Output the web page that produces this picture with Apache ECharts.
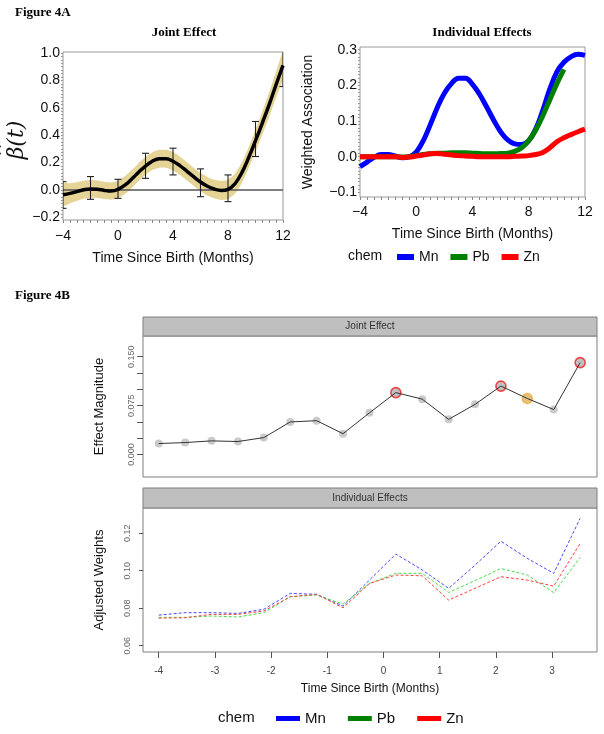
<!DOCTYPE html>
<html><head><meta charset="utf-8">
<script src="https://cdn.jsdelivr.net/npm/echarts@6/dist/echarts.min.js"></script>
<style>html,body{margin:0;padding:0;background:#fff}#c{width:604px;height:734px}</style>
</head><body><div id="c"></div>
<script>
// ---------- Figure 4A: Joint Effect ----------
const tA = [-4,-3.5,-3,-2.5,-2,-1.5,-1,-0.5,0,0.5,1,1.5,2,2.5,3,3.5,4,4.5,5,5.5,6,6.5,7,7.5,8,8.5,9,9.5,10,10.5,11,11.5,12];
const jointCurve = [-0.035,-0.025,-0.012,0.002,0.008,0.006,-0.003,-0.008, 0.004,0.035,0.08,0.13,0.175,0.21,0.228,0.228,0.21, 0.178,0.138,0.097,0.058,0.027,0.007,-0.003,0.005, 0.045,0.125,0.235,0.36,0.49,0.625,0.77,0.91];
const bandHigh = [0.05,0.05,0.057,0.068,0.073,0.07,0.06,0.055, 0.068,0.1,0.145,0.195,0.24,0.275,0.293,0.293,0.277, 0.245,0.205,0.163,0.125,0.095,0.075,0.067,0.075, 0.118,0.2,0.312,0.44,0.575,0.715,0.865,1.01];
const bandLow = [-0.115,-0.098,-0.081,-0.064,-0.057,-0.058,-0.066,-0.071, -0.06,-0.03,0.015,0.065,0.11,0.145,0.163,0.163,0.143, 0.111,0.071,0.031,-0.009,-0.041,-0.061,-0.073,-0.065, -0.028,0.05,0.158,0.28,0.405,0.535,0.675,0.815];
const ebX = [-4,-2,0,2,4,6,8,10,12];
const ebLow = [-0.134,-0.068,-0.061,0.085,0.11,-0.049,-0.085,0.244,0.755];
const ebHigh = [0.061,0.098,0.078,0.268,0.305,0.154,0.11,0.5,1.15];

// ---------- Figure 4A: Individual Effects ----------
const mnB = [-0.028,-0.015,-0.002,0.006,0.006,0.002,-0.003,0.0, 0.013,0.045,0.09,0.138,0.178,0.205,0.22,0.22,0.203, 0.175,0.14,0.103,0.07,0.047,0.036,0.034,0.045, 0.078,0.13,0.19,0.238,0.265,0.28,0.287,0.284];
const pbB = [0.0,0.0,0.0,0.0,0.0,0.0,-0.001,0.0, 0.003,0.006,0.008,0.01,0.01,0.011,0.011,0.011,0.01, 0.009,0.008,0.008,0.009,0.01,0.015,0.025,0.045, 0.075,0.115,0.16,0.205,0.245,null,null,null];
const znB = [0.0,0.0,0.0,0.0,0.0,0.0,-0.002,-0.001, 0.002,0.005,0.008,0.009,0.007,0.005,0.003,0.002,0.001, 0.0,0.0,0.0,0.0,0.0,0.001,0.002,0.003, 0.006,0.012,0.025,0.042,0.053,0.062,0.07,0.077];

// ---------- Figure 4B ----------
const tC = [-4,-3.53,-3.06,-2.59,-2.13,-1.66,-1.19,-0.72,-0.25,0.22,0.69,1.16,1.63,2.09,2.56,3.03,3.5];
const jointMag = [0.0169,0.0184,0.021,0.020,0.026,0.050,0.052,0.032,0.064,0.095,0.085,0.054,0.077,0.105,0.086,0.069,0.141];
const redIdx = [9,13,16];
const orangeIdx = [14];
const mnD = [0.0763,0.0776,0.0776,0.0772,0.0794,0.0879,0.0874,0.0811,0.095,0.1089,0.1004,0.0906,0.103,0.1158,0.1066,0.0986,0.128];
const pbD = [0.0751,0.0751,0.0758,0.0753,0.0776,0.0861,0.087,0.0822,0.0932,0.0986,0.0986,0.0884,0.0947,0.1012,0.0977,0.0883,0.1071];
const znD = [0.0747,0.0749,0.0767,0.0767,0.0785,0.0861,0.0874,0.0802,0.0932,0.0977,0.0973,0.0843,0.0906,0.0968,0.095,0.0918,0.1146];

// ---------- tick labels ----------
const labAX = [-4,0,4,8,12];
const labAY = [-0.2,0,0.2,0.4,0.6,0.8,1.0];
const labBY = [-0.1,0,0.1,0.2,0.3];
const labCY = [0,0.075,0.15];
const tickCY = [0,0.025,0.05,0.075,0.1,0.125,0.15];
const labDY = [0.06,0.08,0.10,0.12];
const labDX = [-4,-3,-2,-1,0,1,2,3];

function steps(a,b,d){const r=[];for(let v=a;v<=b+1e-9;v+=d){r.push(Math.round(v*1000)/1000);}return r;}
const minus = s => String(s).replace('-', '\u2212');
const SANS = 'Liberation Sans, Arial, sans-serif';
const SERIF = 'Liberation Serif, Times New Roman, serif';

const zip = (xs, ys) => xs.map((x,i)=>[x, ys[i]]);

const chart = echarts.init(document.getElementById('c'), null, {renderer:'canvas'});

const frameA = {show:true, borderColor:'#9a9a9a', borderWidth:1, backgroundColor:'transparent'};
const frameC = {show:true, borderColor:'#7f7f7f', borderWidth:1, backgroundColor:'transparent'};
const noLine = {show:false, onZero:false};

chart.setOption({
  animation:false,
  backgroundColor:'#fff',
  grid:[
    Object.assign({left:63, top:52, width:220, height:168}, frameA),
    Object.assign({left:360, top:47, width:225, height:150}, frameA),
    Object.assign({left:143, top:336, width:454, height:141}, frameC),
    Object.assign({left:143, top:508, width:454, height:144}, frameC)
  ],
  xAxis:[
    {gridIndex:0, type:'value', min:-4, max:12,
     axisLine:noLine, splitLine:{show:false},
     axisTick:{show:true, customValues:steps(-4,12,0.5), length:3, lineStyle:{color:'#888'}},
     axisLabel:{customValues:labAX, formatter:v=>minus(v), fontSize:14, color:'#111', fontFamily:SANS, margin:9},
     name:'Time Since Birth (Months)', nameLocation:'middle', nameGap:31,
     nameTextStyle:{fontSize:14, color:'#111', fontFamily:SANS}},
    {gridIndex:1, type:'value', min:-4, max:12,
     axisLine:noLine, splitLine:{show:false},
     axisTick:{show:true, customValues:steps(-4,12,0.5), length:3, lineStyle:{color:'#888'}},
     axisLabel:{customValues:labAX, formatter:v=>minus(v), fontSize:14, color:'#111', fontFamily:SANS, margin:8},
     name:'Time Since Birth (Months)', nameLocation:'middle', nameGap:30,
     nameTextStyle:{fontSize:14, color:'#111', fontFamily:SANS}},
    {gridIndex:2, type:'value', min:-4.28, max:3.8,
     axisLine:noLine, axisTick:{show:false}, axisLabel:{show:false}, splitLine:{show:false}},
    {gridIndex:3, type:'value', min:-4.28, max:3.8,
     axisLine:noLine, splitLine:{show:false},
     axisTick:{show:true, customValues:labDX, length:6, lineStyle:{color:'#555'}},
     axisLabel:{customValues:labDX, fontSize:10, color:'#444', fontFamily:SANS, margin:14},
     name:'Time Since Birth (Months)', nameLocation:'middle', nameGap:31,
     nameTextStyle:{fontSize:12, color:'#111', fontFamily:SANS}}
  ],
  yAxis:[
    {gridIndex:0, type:'value', min:-0.219, max:1.007,
     axisLine:noLine, splitLine:{show:false},
     axisTick:{show:true, customValues:steps(-0.2,1.0,0.025), length:2, lineStyle:{color:'#999'}},
     axisLabel:{customValues:labAY, formatter:v=>minus(v.toFixed(1)), fontSize:14, color:'#111', fontFamily:SANS, margin:3}},
    {gridIndex:1, type:'value', min:-0.113, max:0.3076,
     axisLine:noLine, splitLine:{show:false},
     axisTick:{show:true, customValues:steps(-0.1,0.3,0.01), length:2, lineStyle:{color:'#999'}},
     axisLabel:{customValues:labBY, formatter:v=>minus(v.toFixed(1)), fontSize:14, color:'#111', fontFamily:SANS, margin:3},
     name:'Weighted Association', nameLocation:'middle', nameGap:45,
     nameTextStyle:{fontSize:14, color:'#111', fontFamily:SANS}},
    {gridIndex:2, type:'value', min:-0.0344, max:0.1818,
     axisLine:noLine, splitLine:{show:false},
     axisTick:{show:true, customValues:tickCY, length:6, lineStyle:{color:'#555'}},
     axisLabel:{customValues:labCY, formatter:v=>v.toFixed(3), rotate:90, align:'center', verticalAlign:'bottom',
       fontSize:9, color:'#666', fontFamily:SANS, margin:7},
     name:'Effect Magnitude', nameLocation:'middle', nameGap:37,
     nameTextStyle:{fontSize:13, color:'#111', fontFamily:SANS}},
    {gridIndex:3, type:'value', min:0.0566, max:0.1335,
     axisLine:noLine, splitLine:{show:false},
     axisTick:{show:true, customValues:labDY, length:4, lineStyle:{color:'#555'}},
     axisLabel:{customValues:labDY, formatter:v=>v.toFixed(2), rotate:90, align:'center', verticalAlign:'bottom',
       fontSize:9, color:'#666', fontFamily:SANS, margin:11},
     name:'Adjusted Weights', nameLocation:'middle', nameGap:37,
     nameTextStyle:{fontSize:13, color:'#111', fontFamily:SANS}}
  ],
  legend:[
    {left:397, top:250, padding:0, orient:'horizontal', selectedMode:false, itemWidth:17, itemHeight:6, itemGap:12,
     textStyle:{fontSize:14, color:'#111', fontFamily:SANS},
     data:[{name:'Mn', icon:'rect', itemStyle:{color:'#0000ff'}},
           {name:'Pb', icon:'rect', itemStyle:{color:'#008000'}},
           {name:'Zn', icon:'rect', itemStyle:{color:'#ff0000'}}]},
    {left:276, top:711, padding:0, orient:'horizontal', selectedMode:false, itemWidth:24, itemHeight:5, itemGap:22,
     textStyle:{fontSize:15, color:'#111', fontFamily:SANS},
     data:[{name:'Mn', icon:'rect', itemStyle:{color:'#0000ff'}},
           {name:'Pb', icon:'rect', itemStyle:{color:'#008000'}},
           {name:'Zn', icon:'rect', itemStyle:{color:'#ff0000'}}]}
  ],
  graphic:[
    {type:'text', x:15, y:13, style:{text:'Figure 4A', font:'bold 13px '+SERIF, fill:'#000', verticalAlign:'middle'}},
    {type:'text', x:15, y:296, style:{text:'Figure 4B', font:'bold 13px '+SERIF, fill:'#000', verticalAlign:'middle'}},
    {type:'text', x:184, y:33, style:{text:'Joint Effect', font:'bold 13px '+SERIF, fill:'#000', align:'center', verticalAlign:'middle'}},
    {type:'text', x:482, y:33, style:{text:'Individual Effects', font:'bold 13px '+SERIF, fill:'#000', align:'center', verticalAlign:'middle'}},
    {type:'group', x:17, y:140, rotation:Math.PI/2, children:[
      {type:'text', x:0, y:0, style:{text:'\u03B2(t)', font:'italic 22px DejaVu Serif, serif', fill:'#111', align:'center', verticalAlign:'middle'}},
      {type:'text', x:-10, y:-13, style:{text:'^', font:'15px DejaVu Serif, serif', fill:'#111', align:'center', verticalAlign:'middle'}}
    ]},
    {type:'text', x:348, y:256, style:{text:'chem', font:'14px '+SANS, fill:'#111', verticalAlign:'middle'}},
    {type:'text', x:218, y:718, style:{text:'chem', font:'15px '+SANS, fill:'#111', verticalAlign:'middle'}},
    {type:'rect', shape:{x:143, y:317, width:454, height:19}, style:{fill:'#bfbfbf', stroke:'#7f7f7f', lineWidth:1}},
    {type:'text', x:370, y:326.5, style:{text:'Joint Effect', font:'10px '+SANS, fill:'#333', align:'center', verticalAlign:'middle'}},
    {type:'rect', shape:{x:143, y:488, width:454, height:20}, style:{fill:'#bfbfbf', stroke:'#7f7f7f', lineWidth:1}},
    {type:'text', x:370, y:498, style:{text:'Individual Effects', font:'10px '+SANS, fill:'#333', align:'center', verticalAlign:'middle'}}
  ],
  series:[
    {type:'custom', name:'band', xAxisIndex:0, yAxisIndex:0, clip:true, silent:true, z:1,
     data: tA.map((t,i)=>[t, bandLow[i], bandHigh[i]]),
     encode:{x:0, y:[1,2]},
     renderItem:function(params, api){
       if(params.dataIndex!==0) return null;
       const up=[], lo=[];
       for(let i=0;i<tA.length;i++){ up.push(api.coord([tA[i], bandHigh[i]])); lo.push(api.coord([tA[i], bandLow[i]])); }
       return {type:'polygon', shape:{points:up.concat(lo.reverse()), smooth:0.2}, style:{fill:'#E6D497'}};
     }},
    {type:'line', xAxisIndex:0, yAxisIndex:0, data:[[-4,0],[12,0]], symbol:'none', silent:true, z:2,
     lineStyle:{color:'#555', width:1.3}},
    {type:'custom', name:'eb', xAxisIndex:0, yAxisIndex:0, clip:true, silent:true, z:3,
     data: ebX.map((x,i)=>[x, ebLow[i], ebHigh[i]]),
     encode:{x:0, y:[1,2]},
     renderItem:function(params, api){
       const x=api.value(0), lo=api.value(1), hi=api.value(2);
       const p1=api.coord([x,lo]), p2=api.coord([x,hi]);
       const w=3.5, st={stroke:'#222', lineWidth:1.1};
       return {type:'group', children:[
         {type:'line', shape:{x1:p1[0], y1:p1[1], x2:p2[0], y2:p2[1]}, style:st},
         {type:'line', shape:{x1:p1[0]-w, y1:p1[1], x2:p1[0]+w, y2:p1[1]}, style:st},
         {type:'line', shape:{x1:p2[0]-w, y1:p2[1], x2:p2[0]+w, y2:p2[1]}, style:st}
       ]};
     }},
    {type:'line', name:'joint', xAxisIndex:0, yAxisIndex:0, data:zip(tA, jointCurve), smooth:0.4, symbol:'none', z:4,
     lineStyle:{color:'#000', width:3.5}},
    {type:'line', name:'Mn', xAxisIndex:1, yAxisIndex:1, data:zip(tA, mnB), smooth:0.4, symbol:'none', z:3,
     itemStyle:{color:'#0000ff'}, lineStyle:{color:'#0000ff', width:5}},
    {type:'line', name:'Pb', xAxisIndex:1, yAxisIndex:1, data:zip(tA, pbB), smooth:0.4, symbol:'none', z:4,
     itemStyle:{color:'#008000'}, lineStyle:{color:'#008000', width:5}},
    {type:'line', name:'Zn', xAxisIndex:1, yAxisIndex:1, data:zip(tA, znB), smooth:0.4, symbol:'none', z:5,
     itemStyle:{color:'#ff0000'}, lineStyle:{color:'#ff0000', width:5}},
    {type:'scatter', name:'pts', xAxisIndex:2, yAxisIndex:2, data:zip(tC, jointMag), symbol:'circle', symbolSize:8, z:2,
     itemStyle:{color:'#bdbdbd'}},
    {type:'scatter', name:'red', xAxisIndex:2, yAxisIndex:2, data:redIdx.map(i=>[tC[i], jointMag[i]]), symbol:'circle', symbolSize:10, z:3,
     itemStyle:{color:'rgba(190,190,190,0.9)', borderColor:'#ee1c1c', borderWidth:1.6}},
    {type:'scatter', name:'orange', xAxisIndex:2, yAxisIndex:2, data:orangeIdx.map(i=>[tC[i], jointMag[i]]), symbol:'circle', symbolSize:10, z:3,
     itemStyle:{color:'rgba(236,190,100,0.9)', borderColor:'#f0a830', borderWidth:1.6}},
    {type:'line', name:'jointLine', xAxisIndex:2, yAxisIndex:2, data:zip(tC, jointMag), symbol:'none', z:4,
     lineStyle:{color:'#333', width:1}},
    {type:'line', name:'Mn', xAxisIndex:3, yAxisIndex:3, data:zip(tC, mnD), symbol:'none', z:2,
     itemStyle:{color:'#0000ff'}, lineStyle:{color:'#4848ff', width:1, type:[3,2]}},
    {type:'line', name:'Pb', xAxisIndex:3, yAxisIndex:3, data:zip(tC, pbD), symbol:'none', z:2,
     itemStyle:{color:'#008000'}, lineStyle:{color:'#44dd44', width:1, type:[3,2]}},
    {type:'line', name:'Zn', xAxisIndex:3, yAxisIndex:3, data:zip(tC, znD), symbol:'none', z:2,
     itemStyle:{color:'#ff0000'}, lineStyle:{color:'#ff4040', width:1, type:[3,2]}}
  ]
});
</script>
</body></html>
